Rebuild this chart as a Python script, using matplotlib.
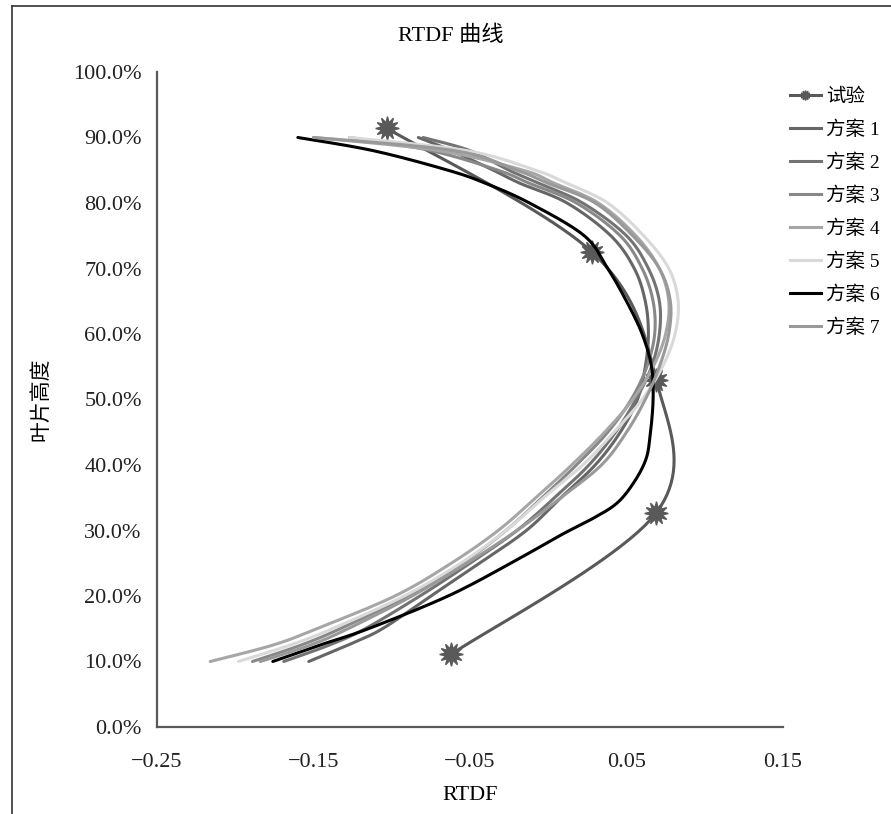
import numpy as np
import matplotlib
matplotlib.use("Agg")
import matplotlib.pyplot as plt
from matplotlib.lines import Line2D

plt.rcParams['font.family'] = ['Liberation Serif', 'Noto Sans CJK SC', 'DejaVu Sans']
plt.rcParams['axes.unicode_minus'] = True

# measured experiment (RTDF vs blade height %)
test_rtdf = [-0.062, 0.069, 0.069, 0.028, -0.103]
test_height = [11.1, 32.7, 53.0, 72.5, 91.4]

# schemes, read at these heights
heights = [10, 12.5, 15, 20, 25, 30, 35, 40, 45, 50, 55, 60, 65, 70, 75, 80, 83, 85, 88, 90]
scheme1 = [-0.153, -0.128, -0.106, -0.075, -0.044, -0.014, 0.008, 0.030, 0.046, 0.057,
           0.062, 0.064, 0.062, 0.055, 0.040, 0.012, -0.018, -0.035, -0.062, -0.083]
scheme2 = [-0.169, -0.140, -0.117, -0.082, -0.050, -0.020, 0.004, 0.026, 0.043, 0.056,
           0.066, 0.071, 0.071, 0.064, 0.050, 0.022, -0.006, -0.025, -0.050, -0.080]
scheme3 = [-0.189, -0.158, -0.133, -0.090, -0.055, -0.027, -0.004, 0.018, 0.038, 0.053,
           0.063, 0.068, 0.067, 0.060, 0.046, 0.018, -0.012, -0.032, -0.075, -0.127]
scheme4 = [-0.216, -0.176, -0.148, -0.098, -0.062, -0.032, -0.008, 0.015, 0.036, 0.054,
           0.067, 0.075, 0.077, 0.071, 0.056, 0.032, 0.004, -0.016, -0.070, -0.150]
scheme5 = [-0.198, -0.165, -0.138, -0.092, -0.056, -0.027, -0.003, 0.022, 0.042, 0.060,
           0.073, 0.081, 0.083, 0.077, 0.061, 0.038, 0.012, -0.008, -0.052, -0.127]
scheme7 = [-0.184, -0.152, -0.128, -0.087, -0.052, -0.020, 0.008, 0.034, 0.050, 0.062,
           0.071, 0.077, 0.078, 0.071, 0.054, 0.030, 0.000, -0.020, -0.060, -0.150]
# scheme 6 (black) read at its own heights
scheme6_height = [10, 12.5, 15, 20, 25, 29.3, 31.9, 34.2, 37.3, 40.8, 44.3, 50, 55, 60,
                  65, 70, 75, 80, 83, 85, 88, 90]
scheme6 = [-0.176, -0.146, -0.115, -0.064, -0.024, 0.008, 0.029, 0.044, 0.0546, 0.0623,
           0.065, 0.067, 0.066, 0.060, 0.050, 0.038, 0.023, -0.012, -0.040, -0.064,
           -0.112, -0.160]

scheme_names = ["方案 1", "方案 2", "方案 3", "方案 4", "方案 5", "方案 6", "方案 7"]
scheme_data = [scheme1, scheme2, scheme3, scheme4, scheme5, scheme6, scheme7]
scheme_heights = [heights] * 5 + [scheme6_height, heights]
scheme_colors = ["#666666", "#737373", "#888888", "#a6a6a6", "#d9d9d9", "#000000", "#999999"]

x_ticks = [-0.25, -0.15, -0.05, 0.05, 0.15]
x_ticklabels = ["\u22120.25", "\u22120.15", "\u22120.05", "0.05", "0.15"]
y_ticks = [0, 10, 20, 30, 40, 50, 60, 70, 80, 90, 100]


def smooth(xs, ys, n=24):
    # excel style smoothed line (catmull-rom bezier), done in screen proportions
    sx, sy = 625 / 0.4, 655 / 100.0
    p = np.column_stack([np.asarray(xs) * sx, np.asarray(ys) * sy])
    p = np.vstack([p[0], p, p[-1]])
    t = np.linspace(0, 1, n)[:, None]
    out = []
    for i in range(1, len(p) - 2):
        p0, p1, p2, p3 = p[i - 1], p[i], p[i + 1], p[i + 2]
        c1 = p1 + (p2 - p0) / 6
        c2 = p2 - (p3 - p1) / 6
        seg = (1 - t) ** 3 * p1 + 3 * (1 - t) ** 2 * t * c1 + 3 * (1 - t) * t ** 2 * c2 + t ** 3 * p2
        out.append(seg if i == 1 else seg[1:])
    out = np.vstack(out)
    return out[:, 0] / sx, out[:, 1] / sy


fig = plt.figure(figsize=(8.91, 8.14), dpi=100)
ax = fig.add_axes([157 / 891, 1 - 727 / 814, 626 / 891, 655 / 814])

tx, ty = smooth(test_rtdf, test_height)
ax.plot(tx, ty, color="#595959", lw=2.2, solid_capstyle="round", zorder=2)
ax.plot(test_rtdf, test_height, ls="none", marker=(12, 1, 0), ms=17,
        color="#595959", zorder=2)

for xs, hs, c in zip(scheme_data, scheme_heights, scheme_colors):
    sx_, sy_ = smooth(xs, hs)
    ax.plot(sx_, sy_, color=c, lw=2.2, solid_capstyle="round", zorder=3)

ax.set_xlim(-0.25, 0.15)
ax.set_ylim(0, 100)
ax.set_xticks(x_ticks)
ax.set_xticklabels(x_ticklabels)
ax.set_yticks(y_ticks)
ax.set_yticklabels(["%.1f%%" % v for v in y_ticks])
ax.tick_params(length=0, labelsize=16, colors="#222222")
ax.tick_params(axis="y", pad=11)
ax.tick_params(axis="x", pad=19)
for s in ["top", "right"]:
    ax.spines[s].set_visible(False)
for s in ["left", "bottom"]:
    ax.spines[s].set_color("#595959")
    ax.spines[s].set_linewidth(1.6)

ax.set_xlabel("RTDF", fontsize=16, labelpad=10)
ax.set_ylabel("叶片高度", fontsize=15)
ax.yaxis.set_label_coords(-106 / 626, 0.5)
fig.text(451 / 891, 1 - 36 / 814, "RTDF 曲线", ha="center", va="center", fontsize=16)

# legend built by hand so the experiment entry shows a small marker
handles = [Line2D([], [], color="#595959", lw=2.2, marker=(12, 1, 0), ms=7)]
handles += [Line2D([], [], color=c, lw=2.2) for c in scheme_colors]
fig.legend(handles, ["试验"] + scheme_names, loc="upper left",
           bbox_to_anchor=(772 / 891, 1 - 71 / 814), frameon=False,
           fontsize=14, handlelength=1.6, handletextpad=0.3, labelspacing=0.74)

# chart area border (cropped on right and bottom)
fig.add_artist(Line2D([12 / 891, 12 / 891], [0, 1 - 6 / 814], color="#333333", lw=1.2))
fig.add_artist(Line2D([12 / 891, 1], [1 - 6 / 814, 1 - 6 / 814], color="#333333", lw=1.2))

fig.savefig("out.png", dpi=100)
